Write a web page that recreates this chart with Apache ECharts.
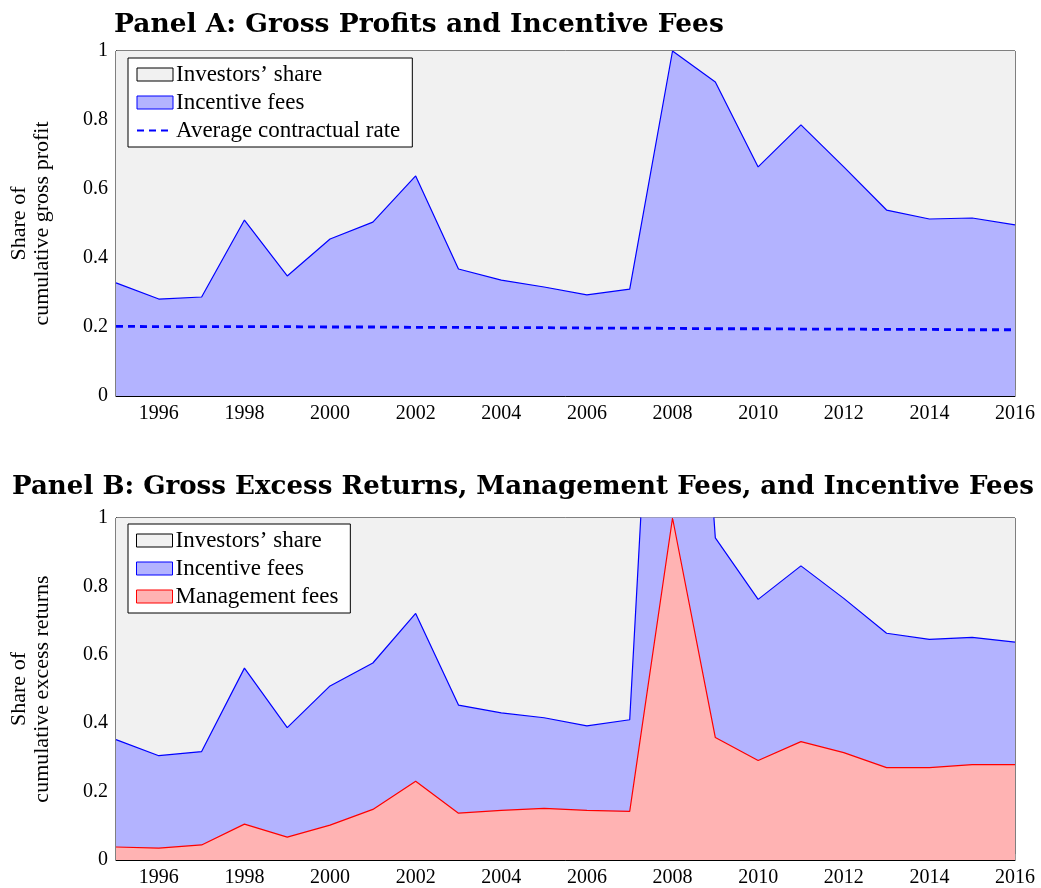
<!DOCTYPE html>
<html>
<head>
<meta charset="utf-8">
<script src="https://cdn.jsdelivr.net/npm/echarts@6/dist/echarts.min.js"></script>
<style>
  html, body { margin: 0; padding: 0; background: #fff; }
  #chart { width: 1041px; height: 888px; }
</style>
</head>
<body>
<div id="chart"></div>
<script>
const years = ['1995','1996','1997','1998','1999','2000','2001','2002','2003','2004','2005',
  '2006','2007','2008','2009','2010','2011','2012','2013','2014','2015','2016']

// Panel A
const incentiveA = [0.328,0.281,0.287,0.510,0.348,0.455,0.504,0.638,0.368,0.336,0.316,
  0.293,0.310,1.000,0.910,0.664,0.786,0.664,0.539,0.513,0.516,0.496]
const contractRate = [0.202,0.201,0.201,0.201,0.201,0.200,0.200,0.199,0.199,0.198,0.198,
  0.197,0.197,0.196,0.195,0.195,0.194,0.194,0.193,0.193,0.192,0.192]

// Panel B (incentive line is top of the fee stack, i.e. incentive + management)
const incentiveB = [0.352,0.305,0.317,0.561,0.387,0.509,0.576,0.721,0.453,0.430,0.416,
  0.392,0.410,2.700,0.942,0.762,0.860,0.765,0.663,0.645,0.651,0.637]
const managementB = [0.038,0.035,0.044,0.105,0.067,0.102,0.148,0.230,0.137,0.145,0.151,
  0.145,0.142,1.000,0.358,0.291,0.346,0.314,0.270,0.270,0.279,0.279]

const investors = years.map(() => 1)

const FONT = 'Liberation Serif'
const TITLE_FONT = 'DejaVu Serif'
const GREY = '#f1f1f1'
const BLUE_FILL = '#b3b3ff'
const RED_FILL = '#ffb3b3'

const xAxisBase = gridIndex => ({
  type: 'category',
  gridIndex: gridIndex,
  data: years,
  boundaryGap: false,
  axisLine: { lineStyle: { color: '#000', width: 1 } },
  axisTick: {
    inside: true, length: 6, alignWithLabel: true,
    interval: (i, v) => Number(v) % 2 === 0,
    lineStyle: { color: '#999' }
  },
  axisLabel: {
    interval: (i, v) => Number(v) % 2 === 0,
    color: '#000', fontFamily: FONT, fontSize: 20, margin: 8
  },
  splitLine: { show: false }
})

const yAxisBase = (gridIndex, name) => ({
  type: 'value',
  gridIndex: gridIndex,
  min: 0, max: 1, interval: 0.2,
  name: name,
  nameLocation: 'middle',
  nameRotate: 90,
  nameGap: 62,
  nameTextStyle: { color: '#000', fontFamily: FONT, fontSize: 22, lineHeight: 23 },
  axisLine: { show: true, lineStyle: { color: '#000', width: 1 } },
  axisTick: { show: false },
  axisLabel: { color: '#000', fontFamily: FONT, fontSize: 20, margin: 8 },
  splitLine: { show: true, lineStyle: { color: '#c8c8c8', type: [6, 5], width: 1 } }
})

const legendBase = (top, names) => ({
  orient: 'vertical',
  left: 128, top: top,
  itemWidth: 36, itemHeight: 13, itemGap: 5,
  padding: [5, 12, 5, 8],
  borderColor: '#000', borderWidth: 1, backgroundColor: '#fff',
  borderRadius: 0,
  selectedMode: false,
  textStyle: { color: '#000', fontFamily: FONT, fontSize: 23, padding: [0, 0, 0, -2] },
  data: names
})

const option = {
  animation: false,
  title: [
    { text: 'Panel A: Gross Profits and Incentive Fees', left: 109, top: 7,
      textStyle: { fontFamily: TITLE_FONT, fontWeight: 'bold', fontSize: 26.5, color: '#000' } },
    { text: 'Panel B: Gross Excess Returns, Management Fees, and Incentive Fees', left: 7, top: 469,
      textStyle: { fontFamily: TITLE_FONT, fontWeight: 'bold', fontSize: 26.1, color: '#000' } }
  ],
  grid: [
    { left: 113, right: 26, top: 51, height: 345, show: true, borderColor: '#000', borderWidth: 1, backgroundColor: 'transparent' },
    { left: 113, right: 26, top: 518, height: 344, show: true, borderColor: '#000', borderWidth: 1, backgroundColor: 'transparent' }
  ],
  xAxis: [xAxisBase(0), xAxisBase(1)],
  yAxis: [
    yAxisBase(0, 'Share of\ncumulative gross profit'),
    yAxisBase(1, 'Share of\ncumulative excess returns')
  ],
  legend: [
    legendBase(58, [
      { name: "Investors’ share", icon: 'rect', itemStyle: { color: GREY, borderColor: '#000', borderWidth: 1 } },
      { name: 'Incentive fees', icon: 'rect', itemStyle: { color: BLUE_FILL, borderColor: '#00f', borderWidth: 1 } },
      { name: 'Average contractual rate', itemStyle: { opacity: 0 } }
    ]),
    legendBase(524, [
      { name: "Investors’ share ", icon: 'rect', itemStyle: { color: GREY, borderColor: '#000', borderWidth: 1 } },
      { name: 'Incentive fees ', icon: 'rect', itemStyle: { color: BLUE_FILL, borderColor: '#00f', borderWidth: 1 } },
      { name: 'Management fees', icon: 'rect', itemStyle: { color: RED_FILL, borderColor: '#f00', borderWidth: 1 } }
    ])
  ],
  series: [
    {
      name: "Investors’ share", type: 'line', xAxisIndex: 0, yAxisIndex: 0,
      data: investors, symbol: 'none', z: 1,
      lineStyle: { width: 0, color: '#000' }, itemStyle: { color: GREY },
      areaStyle: { color: GREY, opacity: 1 }
    },
    {
      name: 'Incentive fees', type: 'line', xAxisIndex: 0, yAxisIndex: 0,
      data: incentiveA, symbol: 'none', z: 2,
      lineStyle: { width: 1.2, color: '#0000ff' }, itemStyle: { color: '#0000ff' },
      areaStyle: { color: BLUE_FILL, opacity: 1 }
    },
    {
      name: 'Average contractual rate', type: 'line', xAxisIndex: 0, yAxisIndex: 0,
      data: contractRate, symbol: 'none', z: 3,
      lineStyle: { width: 2.8, color: '#0000ff', type: [7, 5] }, itemStyle: { color: '#0000ff' }
    },
    {
      name: "Investors’ share ", type: 'line', xAxisIndex: 1, yAxisIndex: 1,
      data: investors, symbol: 'none', z: 1,
      lineStyle: { width: 0, color: '#000' }, itemStyle: { color: GREY },
      areaStyle: { color: GREY, opacity: 1 }
    },
    {
      name: 'Incentive fees ', type: 'line', xAxisIndex: 1, yAxisIndex: 1,
      data: incentiveB, symbol: 'none', z: 2, clip: true,
      lineStyle: { width: 1.2, color: '#0000ff' }, itemStyle: { color: '#0000ff' },
      areaStyle: { color: BLUE_FILL, opacity: 1 }
    },
    {
      name: 'Management fees', type: 'line', xAxisIndex: 1, yAxisIndex: 1,
      data: managementB, symbol: 'none', z: 3, clip: true,
      lineStyle: { width: 1.2, color: '#ff0000' }, itemStyle: { color: '#ff0000' },
      areaStyle: { color: RED_FILL, opacity: 1 }
    }
  ]
}

const chart = echarts.init(document.getElementById('chart'), null, { renderer: 'canvas' })
chart.setOption(option)
</script>
</body>
</html>
